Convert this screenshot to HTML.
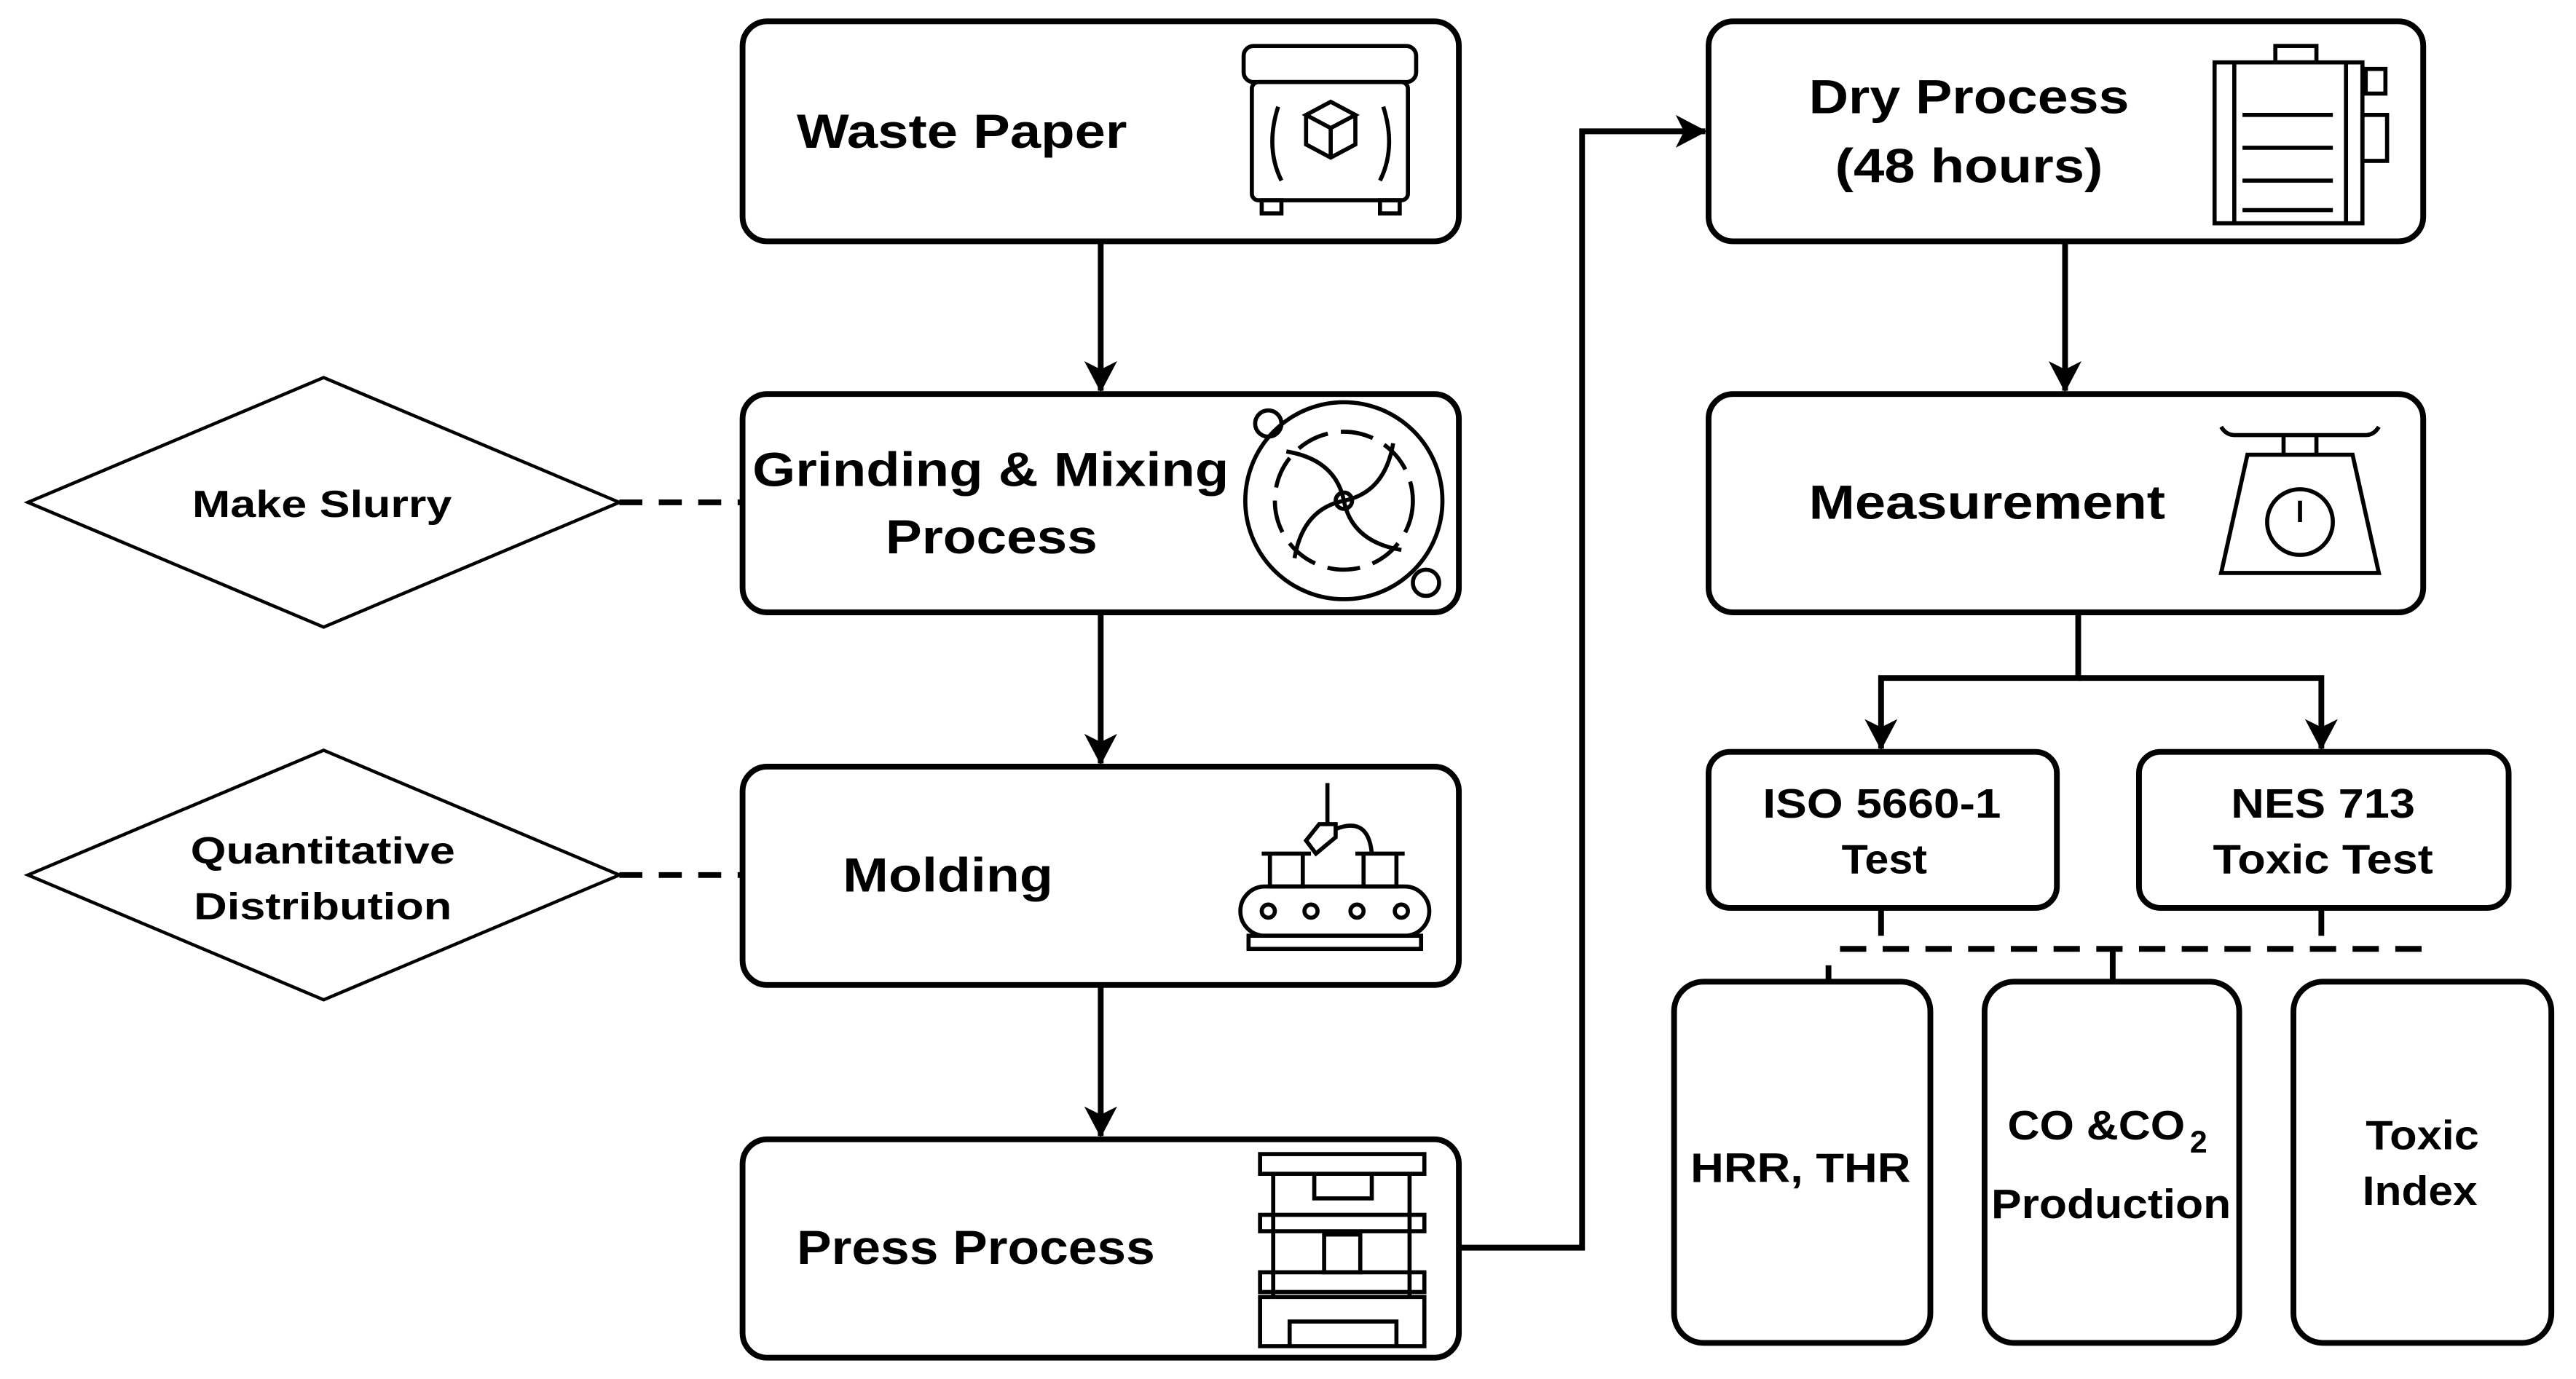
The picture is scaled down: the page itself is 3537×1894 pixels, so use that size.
<!DOCTYPE html>
<html><head><meta charset="utf-8"><style>html,body{margin:0;padding:0;background:#fff}svg{display:block}</style></head>
<body>
<svg width="3537" height="1894" viewBox="0 0 1568 840" preserveAspectRatio="none" xmlns="http://www.w3.org/2000/svg" font-family="Liberation Sans, Arial, sans-serif" font-weight="bold">
<defs>
<marker id="b" markerWidth="22" markerHeight="22" refX="20" refY="11" orient="auto" markerUnits="userSpaceOnUse"><path d="M2,1 L21,11 L2,21 L7,11 Z" fill="#000"/></marker></defs>
<g fill="#fff" stroke="#000" stroke-width="3.5">
<rect x="452" y="13" width="436" height="134" rx="15"/>
<rect x="452" y="240" width="436" height="133" rx="15"/>
<rect x="452" y="467" width="436" height="133" rx="15"/>
<rect x="452" y="694" width="436" height="133" rx="15"/>
<rect x="1040" y="13" width="435" height="134" rx="15"/>
<rect x="1040" y="240" width="435" height="133" rx="15"/>
<rect x="1040" y="458" width="212" height="95" rx="13"/>
<rect x="1302" y="458" width="225" height="95" rx="13"/>
<rect x="1019" y="598" width="156" height="220" rx="18"/>
<rect x="1208" y="598" width="155" height="220" rx="18"/>
<rect x="1396" y="598" width="157" height="220" rx="18"/>
</g>
<g fill="#fff" stroke="#000" stroke-width="2">
<path d="M17,306 L197,230 L377,306 L197,382 Z"/>
<path d="M17,533 L197,457 L377,533 L197,609 Z"/>
</g>
<g stroke="#000" stroke-width="3.5" fill="none">
<line x1="670" y1="147" x2="670" y2="238" marker-end="url(#b)"/>
<line x1="670" y1="373" x2="670" y2="465" marker-end="url(#b)"/>
<line x1="670" y1="600" x2="670" y2="692" marker-end="url(#b)"/>
<polyline points="888,760 963,760 963,80 1038,80" marker-end="url(#b)"/>
<line x1="1257" y1="147" x2="1257" y2="238" marker-end="url(#b)"/>
<polyline points="1265,373 1265,413 1145,413 1145,456" marker-end="url(#b)"/>
<polyline points="1265,413 1413,413 1413,456" marker-end="url(#b)"/>
<line x1="1145" y1="553" x2="1145" y2="570"/>
<line x1="1413" y1="553" x2="1413" y2="570"/>
<line x1="1113" y1="588" x2="1113" y2="598"/>
<line x1="1286" y1="578" x2="1286" y2="598"/>
<line x1="377" y1="306" x2="452" y2="306" stroke-dasharray="14,10"/>
<line x1="377" y1="533" x2="452" y2="533" stroke-dasharray="14,10"/>
<line x1="1120" y1="578" x2="1475" y2="578" stroke-dasharray="16,10"/>
</g>
<g font-size="29" lengthAdjust="spacingAndGlyphs">
<text x="485" y="90" textLength="201" lengthAdjust="spacingAndGlyphs">Waste Paper</text>
<text x="458" y="296" textLength="290" lengthAdjust="spacingAndGlyphs">Grinding &amp; Mixing</text>
<text x="539" y="337" textLength="129" lengthAdjust="spacingAndGlyphs">Process</text>
<text x="513" y="543" textLength="128" lengthAdjust="spacingAndGlyphs">Molding</text>
<text x="485" y="770" textLength="218" lengthAdjust="spacingAndGlyphs">Press Process</text>
<text x="1101" y="69" textLength="195" lengthAdjust="spacingAndGlyphs">Dry Process</text>
<text x="1117" y="111" textLength="163" lengthAdjust="spacingAndGlyphs">(48 hours)</text>
<text x="1101" y="316" textLength="217" lengthAdjust="spacingAndGlyphs">Measurement</text>
</g>
<g font-size="23">
<text x="117" y="315" textLength="158" lengthAdjust="spacingAndGlyphs">Make Slurry</text>
<text x="116" y="526" textLength="161" lengthAdjust="spacingAndGlyphs">Quantitative</text>
<text x="118" y="560" textLength="157" lengthAdjust="spacingAndGlyphs">Distribution</text>
</g>
<g font-size="25">
<text x="1073" y="498" textLength="145" lengthAdjust="spacingAndGlyphs">ISO 5660-1</text>
<text x="1121" y="532" textLength="52" lengthAdjust="spacingAndGlyphs">Test</text>
<text x="1358" y="498" textLength="112" lengthAdjust="spacingAndGlyphs">NES 713</text>
<text x="1347" y="532" textLength="134" lengthAdjust="spacingAndGlyphs">Toxic Test</text>
<text x="1029" y="720" textLength="134" lengthAdjust="spacingAndGlyphs">HRR, THR</text>
<text x="1222" y="694" textLength="108" lengthAdjust="spacingAndGlyphs">CO &amp;CO</text>
<text x="1333" y="702" font-size="19">2</text>
<text x="1212" y="742" textLength="146" lengthAdjust="spacingAndGlyphs">Production</text>
<text x="1440" y="700" textLength="69" lengthAdjust="spacingAndGlyphs">Toxic</text>
<text x="1438" y="734" textLength="70" lengthAdjust="spacingAndGlyphs">Index</text>
</g>
<g stroke="#000" stroke-width="2.5" fill="none">
<rect x="757" y="28" width="105" height="22" rx="6"/>
<rect x="762" y="50" width="95" height="72" rx="4"/>
<rect x="768" y="122" width="12" height="8"/><rect x="840" y="122" width="12" height="8"/>
<path d="M795,70 l15,-8 l15,8 l-15,8 z M795,70 v18 l15,8 l15,-8 v-18 M810,78 v18"/>
<path d="M778,65 q-8,25 2,45 M842,65 q8,25 -2,45"/>
<circle cx="818" cy="305" r="60"/>
<circle cx="818" cy="305" r="42" stroke-dasharray="20,8"/>
<circle cx="818" cy="305" r="5"/>
<path d="M818,305 q25,-5 30,-35 M818,305 q-25,5 -30,35 M818,305 q5,25 35,30 M818,305 q-5,-25 -35,-30"/>
<circle cx="772" cy="258" r="8"/><circle cx="868" cy="355" r="8"/>
<rect x="755" y="540" width="115" height="30" rx="15"/>
<rect x="760" y="570" width="105" height="8"/>
<circle cx="772" cy="555" r="4"/><circle cx="798" cy="555" r="4"/><circle cx="826" cy="555" r="4"/><circle cx="853" cy="555" r="4"/>
<path d="M768,520 h30 M773,520 v20 h20 v-20 M825,520 h30 M830,520 v20 h20 v-20"/>
<path d="M808,477 v25 M803,502 h10 v8 l-12,10 l-6,-8 z M813,505 q20,-8 22,15"/>
<rect x="767" y="703" width="100" height="12"/>
<path d="M775,715 v75 M858,715 v75 M800,715 v15 h35 v-15"/>
<rect x="767" y="740" width="100" height="10"/>
<rect x="767" y="775" width="100" height="12"/>
<rect x="806" y="752" width="22" height="23"/>
<path d="M767,790 h100 v30 h-100 z M785,820 v-15 h65 v15"/>
<rect x="1348" y="38" width="90" height="98"/>
<rect x="1385" y="28" width="25" height="10"/>
<path d="M1360,38 v98 M1428,38 v98 M1365,70 h55 M1365,90 h55 M1365,110 h55 M1365,128 h55"/>
<rect x="1438" y="70" width="15" height="28"/>
<rect x="1440" y="42" width="12" height="15"/>
<path d="M1352,260 q3,5 8,5 h80 q5,0 8,-5 M1390,265 v12 M1410,265 v12"/>
<path d="M1368,277 h64 l16,72 h-96 z"/>
<circle cx="1400" cy="318" r="20"/>
<path d="M1400,305 v13"/>
</g>
</svg>
</body></html>
